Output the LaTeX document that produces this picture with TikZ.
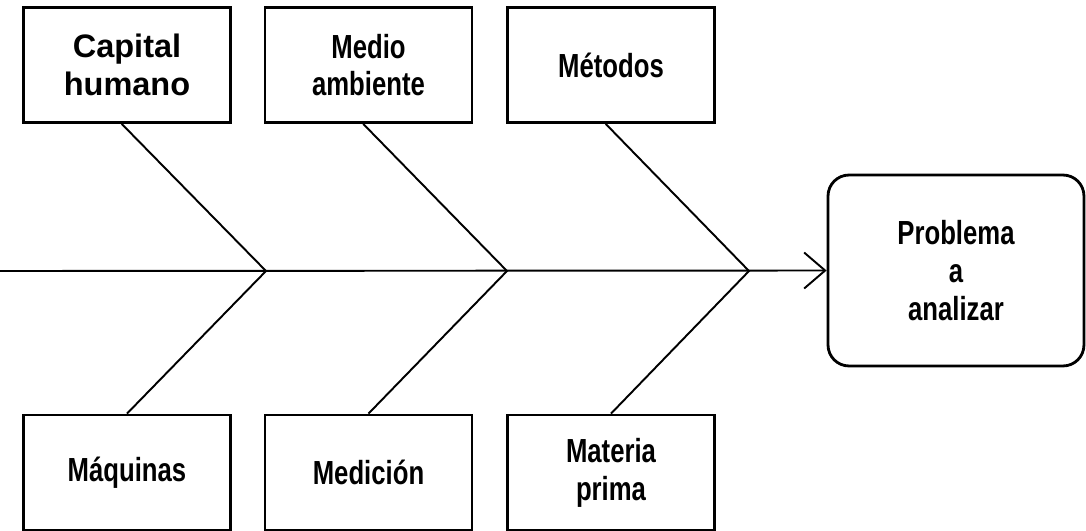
\documentclass[tikz,border=0pt]{standalone}
\usepackage{fontspec}
\setmainfont{Liberation Sans}
\newfontfamily\narrowfont[FakeStretch=0.77]{Liberation Sans}
\usetikzlibrary{arrows.meta}

\tikzset{
  cause/.style={draw, line width=1.6pt, minimum width=4.14cm, minimum height=2.3cm,
                align=center, font=\narrowfont\bfseries\fontsize{19}{21.5}\selectfont},
  bone/.style={line width=1.1pt},
}

\begin{document}
\begin{tikzpicture}[x=0.02cm, y=-0.02cm]
\useasboundingbox (0,0) rectangle (1086,531);

% top causes
\node[cause, font=\bfseries\fontsize{18.5}{21.5}\selectfont] (ch) at (127,65)  {Capital\\humano};
\node[cause] (ma) at (368.5,65) {Medio\\ambiente};
\node[cause] (me) at (611,65)   {Métodos};

% bottom causes
\node[cause] (mq) at (127,472.5)   {Máquinas};
\node[cause] (md) at (368.5,472.5) {Medición};
\node[cause] (mp) at (611,472.5)   {Materia\\prima};

% effect
\node[cause, rounded corners=0.42cm, minimum width=5.12cm, minimum height=3.82cm] (pr) at (956,270.5) {Problema\\a\\analizar};

% spine
\coordinate (st) at (0,271);
\coordinate (j1) at (266,271);
\coordinate (j2) at (507,271);
\coordinate (j3) at (749,271);
\draw[bone, -{Straight Barb[length=0.42cm, width=0.72cm, line width=1.1pt]}] (st) -- (pr.west);

% bones
\draw[bone] ([xshift=-3pt]ch.south) -- (j1) -- (mq.north);
\draw[bone] ([xshift=-3pt]ma.south) -- (j2) -- (md.north);
\draw[bone] ([xshift=-3pt]me.south) -- (j3) -- (mp.north);
\end{tikzpicture}
\end{document}
